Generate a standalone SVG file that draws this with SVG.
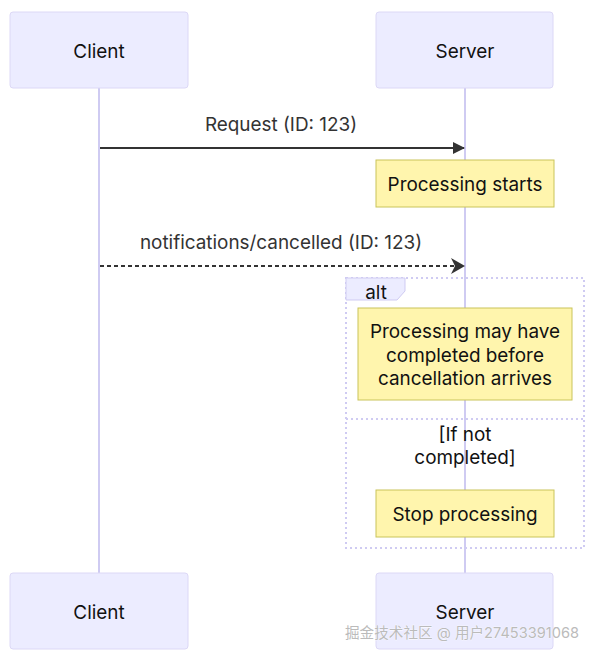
<svg xmlns="http://www.w3.org/2000/svg" width="595" height="658" viewBox="0 0 595 658">
<defs>
<style>
text{font-family:Inter,"Liberation Sans","Noto Sans CJK SC",sans-serif;font-size:18.9px;text-anchor:middle;}
.actor{fill:#ECECFF;stroke:#dcd8f6;stroke-width:1;}
.actorText{fill:#111;}
.life{stroke:#cfcbf2;stroke-width:2;}
.note{fill:#fff5ad;stroke:#c9c45a;stroke-width:1;}
.noteText{fill:#111;}
.msg{stroke:#333;stroke-width:2;fill:none;}
.msgText{fill:#333;}
.frame{fill:none;stroke:#cfcbf2;stroke-width:2;stroke-dasharray:2 3;}
.wm{fill:#bbb;stroke:#fff;stroke-width:0.6;paint-order:stroke;font-size:14.6px;}
</style>
<marker id="arrowSolid" viewBox="0 0 12 12" refX="11" refY="6" markerWidth="12" markerHeight="12" markerUnits="userSpaceOnUse" orient="auto">
<path d="M0,0 L12,6 L0,12 z" fill="#333"/>
</marker>
<marker id="arrowOpen" viewBox="0 0 14 16" refX="13" refY="8" markerWidth="14" markerHeight="16" markerUnits="userSpaceOnUse" orient="auto">
<path d="M0,0 L14,8 L0,16 L4,8 z" fill="#333"/>
</marker>
</defs>
<rect width="595" height="658" fill="#fff"/>
<g id="lifelines">
<line class="life" x1="99" y1="88" x2="99" y2="573"/>
<line class="life" x1="465" y1="88" x2="465" y2="573"/>
</g>
<g id="client-top"><rect class="actor" x="10" y="12" width="178" height="76" rx="3"/><text class="actorText" x="99" y="58">Client</text></g>
<g id="server-top"><rect class="actor" x="376" y="12" width="177" height="76" rx="3"/><text class="actorText" x="465" y="58">Server</text></g>
<g id="client-bottom"><rect class="actor" x="10" y="573" width="178" height="76" rx="3"/><text class="actorText" x="99" y="619">Client</text></g>
<g id="server-bottom"><rect class="actor" x="376" y="573" width="177" height="76" rx="3"/><text class="actorText" x="465" y="619">Server</text></g>
<g id="alt-frame">
<rect class="frame" x="346" y="278" width="238" height="270"/>
<line class="frame" x1="346" y1="419" x2="584" y2="419"/>
<polygon points="346,278 405,278 405,291 397,300 346,300" fill="#ECECFF" stroke="#cfcbf2" stroke-width="1"/>
<text class="noteText" x="376" y="299">alt</text>
<text class="noteText" x="465" y="441">[If not</text>
<text class="noteText" x="465" y="464">completed]</text>
</g>
<g id="note-start"><rect class="note" x="376" y="160" width="178" height="47"/><text class="noteText" x="465" y="191">Processing starts</text></g>
<g id="note-may"><rect class="note" x="358" y="308" width="214" height="92"/>
<text class="noteText" x="465" y="338">Processing may have</text>
<text class="noteText" x="465" y="362">completed before</text>
<text class="noteText" x="465" y="385">cancellation arrives</text></g>
<g id="note-stop"><rect class="note" x="376" y="490" width="178" height="47"/><text class="noteText" x="465" y="521">Stop processing</text></g>
<g id="connectors">
<line class="msg" x1="100" y1="148" x2="464" y2="148" marker-end="url(#arrowSolid)"/>
<text class="msgText" x="281" y="131">Request (ID: 123)</text>
<line class="msg" x1="100" y1="266" x2="464" y2="266" stroke-dasharray="4 3" marker-end="url(#arrowOpen)"/>
<text class="msgText" x="281" y="249">notifications/cancelled (ID: 123)</text>
</g>
<text class="wm" x="462" y="638">掘金技术社区 @ 用户27453391068</text>
</svg>
